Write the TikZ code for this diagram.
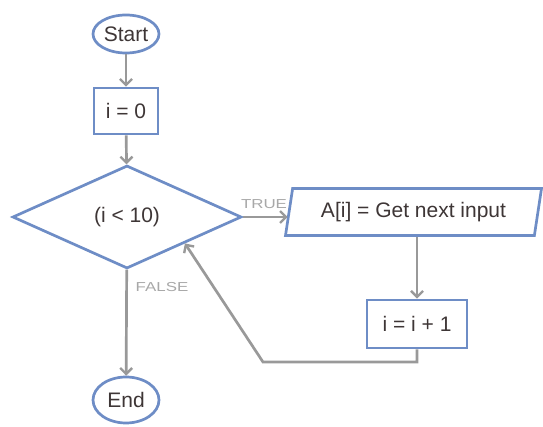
\documentclass[tikz,border=0pt]{standalone}
\usepackage{fontspec}
\setmainfont{Liberation Sans}
\usetikzlibrary{shapes.geometric,arrows.meta}
\definecolor{nodeblue}{HTML}{6E8DC6}
\definecolor{arrgray}{HTML}{999999}
\definecolor{txtcol}{HTML}{3E3636}
\definecolor{lblgray}{HTML}{A8A8A8}
\tikzset{
  base/.style={draw=nodeblue, line width=2.7pt, fill=white, text=txtcol, inner sep=0pt, font=\fontsize{21}{23}\selectfont},
  term/.style={base, ellipse},
  procbox/.style={base, rectangle},
  decision/.style={base, diamond},
  iobox/.style={base, trapezium, trapezium left angle=70, trapezium right angle=110, trapezium stretches body=true},
  arr/.style={draw=arrgray, line width=2.7pt, -{Straight Barb[length=6pt,width=12pt,line width=2.4pt]}},
  lbl/.style={text=lblgray, font=\fontsize{13}{13}\selectfont, xscale=1.3, inner sep=0pt}
}
\begin{document}
\begin{tikzpicture}[x=1pt,y=-1pt]
\useasboundingbox (0,0) rectangle (543,427);
\node[term, minimum width=66pt, minimum height=38pt] (start) at (126,34) {Start};
\node[procbox, minimum width=64pt, minimum height=46pt] (init) at (126,111) {i = 0};
\node[decision, minimum width=229pt, minimum height=103pt] (dec) at (127,217) {(i < 10)};
\node[iobox, minimum width=256pt, minimum height=47pt] (inp) at (413.5,212) {A[i] = Get next input};
\node[procbox, minimum width=100pt, minimum height=48pt] (inc) at (417,324) {i = i + 1};
\node[term, minimum width=66pt, minimum height=46pt] (end) at (126,400) {End};
\coordinate (c2) at (263,362);
\draw[arr] (start) -- (init);
\draw[arr] (init) -- (dec);
\draw[arr] (dec.east) -- (dec.east -| inp.west);
\draw[arr] (dec) -- (end);
\draw[arr] (inp.south -| inc) -- (inc);
\draw[arr] (inc.south) |- (c2) -- (dec.south east);
\node[lbl] (ltrue) at (264,204) {TRUE};
\node[lbl] (lfalse) at (162,287) {FALSE};
\end{tikzpicture}
\end{document}
